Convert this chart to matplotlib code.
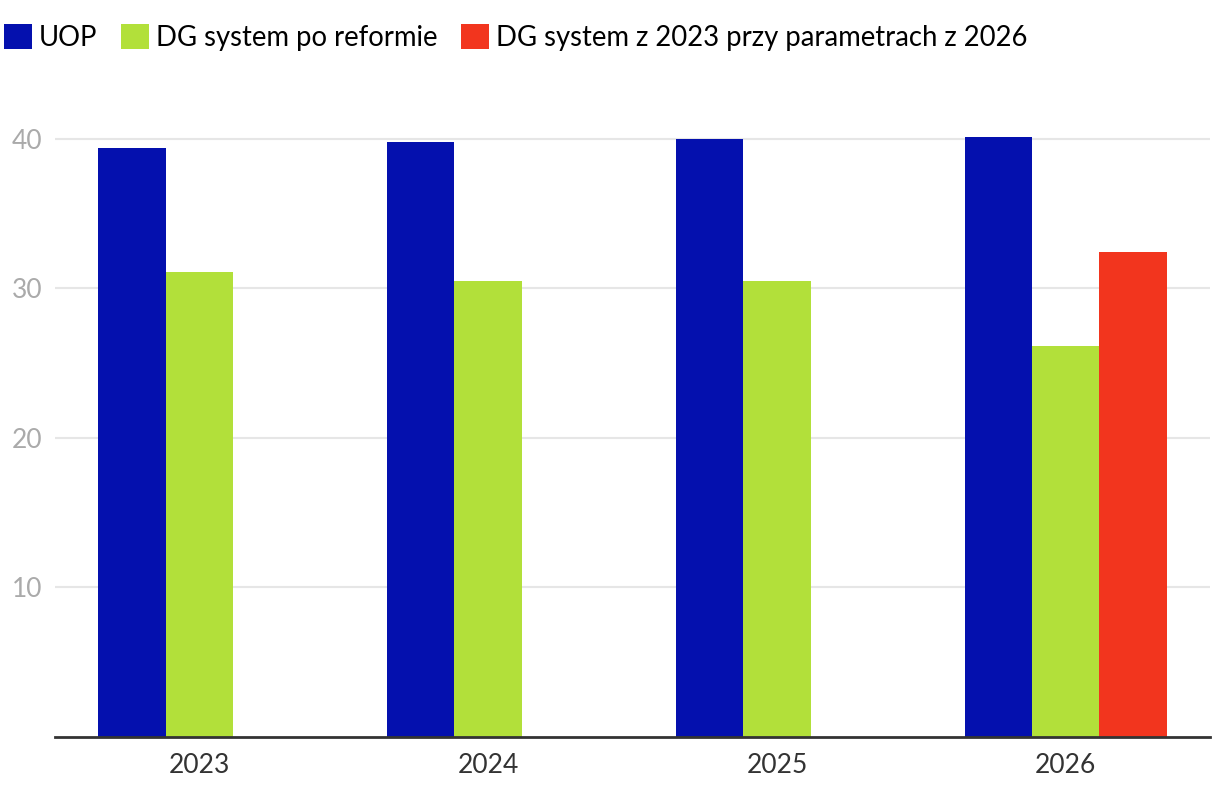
import matplotlib.pyplot as plt
import numpy as np

years = ['2023', '2024', '2025', '2026']
uop = [39.4, 39.8, 40.0, 40.1]
dg_reform = [31.1, 30.5, 30.5, 26.1]
dg_2023_params_2026 = [np.nan, np.nan, np.nan, 32.4]

series = [
    ('UOP', uop, '#0410AE'),
    ('DG system po reformie', dg_reform, '#B2E03A'),
    ('DG system z 2023 przy parametrach z 2026', dg_2023_params_2026, '#F2351E'),
]

plt.rcParams['font.family'] = ['Lato', 'DejaVu Sans']

fig = plt.figure(figsize=(12.2, 7.98), dpi=100)
ax = fig.add_axes([55 / 1220, 61.3 / 798, 1155 / 1220, 628 / 798])

x = np.arange(len(years))
width = 0.233
handles = []
for i, (name, vals, color) in enumerate(series):
    b = ax.bar(x + (i - 1) * width, vals, width, color=color, label=name, zorder=2)
    handles.append(b)

ax.set_xlim(-0.5, 3.5)
ax.set_ylim(0, 42)
ax.set_yticks([10, 20, 30, 40])
ax.set_xticks(x)
ax.set_xticklabels(years)

# gridlines and axis styling
ax.grid(axis='y', color='#e6e6e6', linewidth=1.5, zorder=0)
for side in ['top', 'right', 'left']:
    ax.spines[side].set_visible(False)
ax.spines['bottom'].set_color('#333333')
ax.spines['bottom'].set_linewidth(2)
ax.spines['bottom'].set_zorder(3)
ax.tick_params(axis='y', length=0, pad=9, labelsize=19, labelcolor='#aaaaaa')
ax.tick_params(axis='x', length=0, pad=12, labelsize=19, labelcolor='#333333')

fig.legend(handles=handles, loc='upper left', bbox_to_anchor=(4 / 1220, 1 - 24 / 798),
           ncol=3, frameon=False, fontsize=19.8, handlelength=1.02, handleheight=1.02,
           handletextpad=0.25, columnspacing=0.85, borderaxespad=0, borderpad=0)

fig.savefig('out.png', dpi=100, facecolor='white')
